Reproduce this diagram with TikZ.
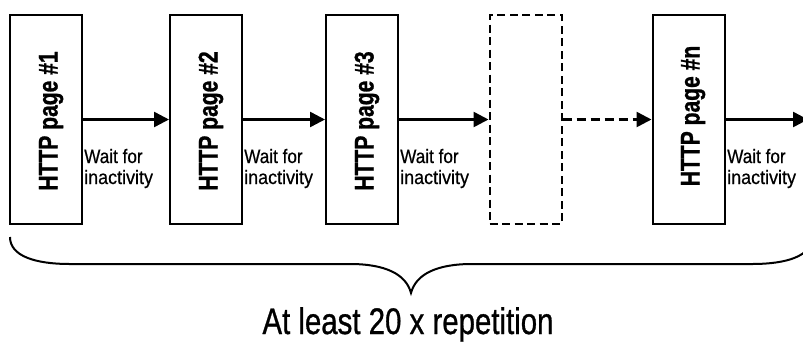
\documentclass[tikz,border=0pt]{standalone}
\usepackage{fontspec}
\setmainfont{Liberation Sans}
\newfontfamily\titlefont[FakeBold=1.2]{Liberation Sans Bold}
\newfontfamily\bigfont[FakeBold=0.9]{Liberation Sans}
\newfontfamily\smallfont[FakeBold=0.6]{Liberation Sans}
\usetikzlibrary{arrows.meta}
\begin{document}
\begin{tikzpicture}[x=1pt,y=-1pt,
 page/.style={draw,line width=2pt,minimum width=72pt,minimum height=209pt,inner sep=0pt},
 ghost/.style={page,dash pattern=on 8pt off 4.5pt},
 flow/.style={line width=2.5pt,-{Triangle[length=15pt,width=15pt]}},
 title/.style={rotate=90,anchor=base,font=\titlefont\fontsize{27}{27}\selectfont,inner sep=0pt},
 wait/.style={anchor=base west,align=left,inner sep=0pt,font=\smallfont\fontsize{19.5}{21}\selectfont}]
\useasboundingbox (0,0) rectangle (803,341);
\clip (0,0) rectangle (803,341);
\node[page] (p1) at (46,119.5) {};
\node[page] (p2) at (206,119.5) {};
\node[page] (p3) at (362,119.5) {};
\node[ghost] (pg) at (525.5,119.5) {};
\node[page] (pn) at (688.5,119.5) {};
\node[title] (t1) at (57.5,121) {\scalebox{0.78}[1]{HTTP page \#1}};
\node[title] (t2) at (217.5,121) {\scalebox{0.78}[1]{HTTP page \#2}};
\node[title] (t3) at (373.5,121) {\scalebox{0.78}[1]{HTTP page \#3}};
\node[title] (tn) at (699.5,116) {\scalebox{0.78}[1]{HTTP page \#n}};
\coordinate (out) at (808,119.5);
\draw[flow] (p1) -- (p2);
\draw[flow] (p2) -- (p3);
\draw[flow] (p3) -- (pg);
\draw[flow,dash pattern=on 9pt off 5pt] (pg) -- (pn);
\draw[flow] (pn) -- (out);
\node[wait] (w1) at (84,184) {\scalebox{0.88}[1]{Wait for}\\\scalebox{0.92}[1]{inactivity}};
\node[wait] (w2) at (244,184) {\scalebox{0.88}[1]{Wait for}\\\scalebox{0.92}[1]{inactivity}};
\node[wait] (w3) at (400,184) {\scalebox{0.88}[1]{Wait for}\\\scalebox{0.92}[1]{inactivity}};
\node[wait] (wn) at (727,184) {\scalebox{0.88}[1]{Wait for}\\\scalebox{0.92}[1]{inactivity}};
\draw[line width=2pt] (10,237) .. controls (10,256) and (35,264) .. (70,264) -- (350,264)
  .. controls (385,264) and (406,274) .. (411,293)
  .. controls (416,274) and (437,264) .. (472,264) -- (752,264)
  .. controls (787,264) and (812,256) .. (812,237);
\node[anchor=base,inner sep=0pt,font=\bigfont\fontsize{37}{37}\selectfont] (rep) at (408,334) {\scalebox{0.795}[1]{At least 20 x repetition}};
\end{tikzpicture}
\end{document}
